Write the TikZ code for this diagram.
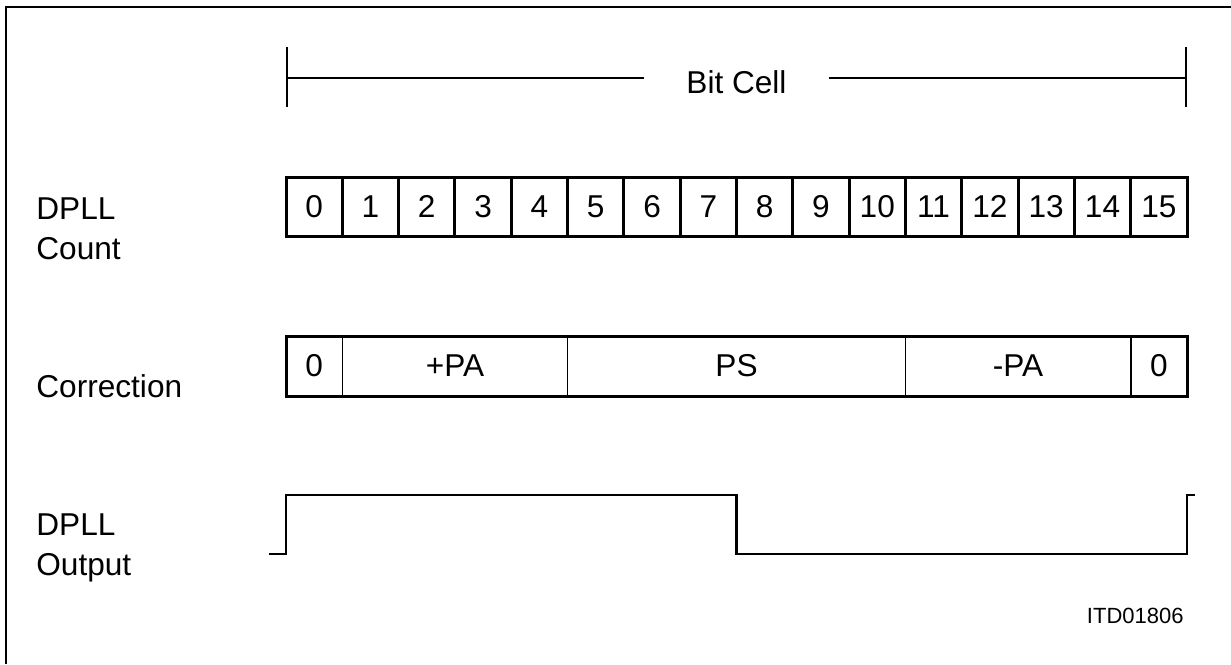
\documentclass[tikz,border=0pt]{standalone}
\usepackage{fontspec}
\setmainfont{Liberation Sans}
\usepackage{tikz}

\begin{document}
\begin{tikzpicture}[x = 0.5pt, y = -0.5pt,
  font = \fontsize{15.8}{20}\selectfont,
  cntcell/.style = {draw, line width = 1.5pt, inner sep = 0pt, outer sep = 0pt, minimum width = 28.156pt, minimum height = 29.5pt},
  corrcell/.style = {draw, line width = 0.8pt, inner sep = 0pt, outer sep = 0pt, minimum height = 30pt},
  rowlabel/.style = {align = left, inner sep = 0pt, anchor = north west},
  ]
\useasboundingbox (0, 0) rectangle (1231, 664);

% Frame
\draw[line width = 0.7pt] (1231, 7) -- (6, 7) -- (6, 664);

% Bit cell span
\coordinate (bitL) at (287, 78);
\coordinate (bitR) at (1186, 78);
\node[inner xsep = 21pt, inner ysep = 0pt] (bitcell) at (736.5, 82) {Bit Cell};
\draw[line width = 0.8pt] (bitL) ++(0, -31) -- ++(0, 60);
\draw[line width = 0.8pt] (bitR) ++(0, -31) -- ++(0, 60);
\draw[line width = 0.8pt] (bitL) -- (bitL -| bitcell.west);
\draw[line width = 0.8pt] (bitL -| bitcell.east) -- (bitR);

% DPLL count
\node[rowlabel] (cntlabel) at (36, 197) {DPLL\\Count};
\foreach \i in {0,...,15}
  \node[cntcell] (cnt\i) at ({286 + 56.3125 * (\i + 0.5)}, 206.5) {\i};

% Correction
\node[rowlabel, anchor = base west] (corrlabel) at (36, 397) {Correction};
\foreach \lab/\c/\n [count = \k] in {0/0.5/1, +PA/3/4, PS/8/6, -PA/13/4, 0/15.5/1}
  \node[corrcell, minimum width = {28.156pt * \n}] (corr\k) at ({286 + 56.3125 * \c}, 366) {\lab};
\draw[line width = 1.5pt] (corr1.north west) rectangle (corr5.south east);

% DPLL output
\node[rowlabel] (outlabel) at (36, 513) {DPLL\\Output};
\coordinate (hi) at (0, 495);
\coordinate (lo) at (0, 554);
\draw[line width = 1.2pt] (269, 554) -- (cnt0.west |- lo) -- (cnt0.west |- hi)
  -- (cnt8.west |- hi) -- (cnt8.west |- lo) -- (cnt15.east |- lo)
  -- (cnt15.east |- hi) -- ++(8, 0);

\node[font = \fontsize{11}{13}\selectfont, anchor = base east, inner sep = 0pt] (figid) at (1184, 623) {ITD01806};

\end{tikzpicture}
\end{document}
